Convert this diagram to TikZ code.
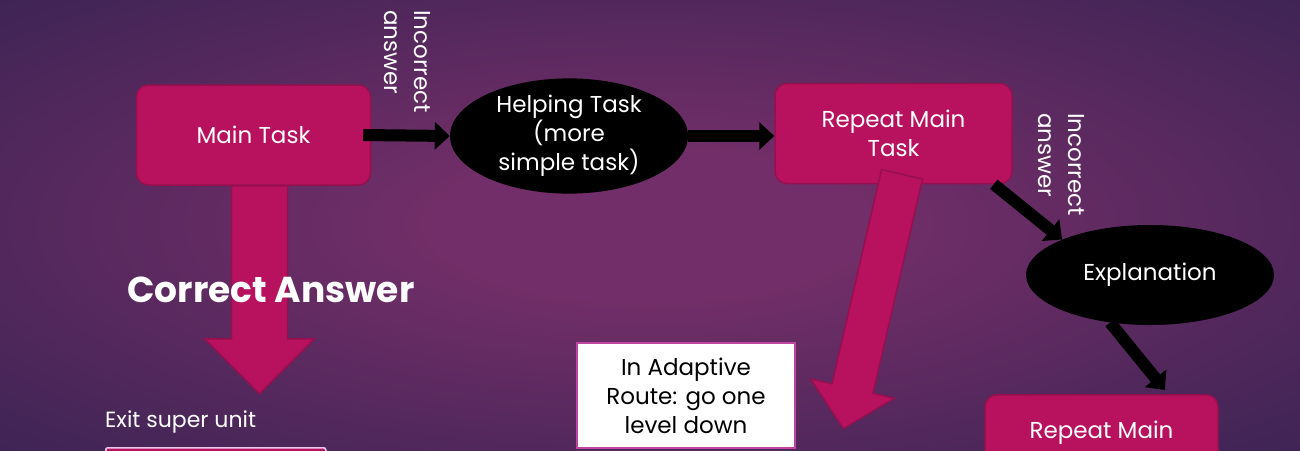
\documentclass[tikz,border=0pt]{standalone}
\usepackage{fontspec}
\setmainfont{Poppins}
\usetikzlibrary{shapes.geometric,arrows.meta,calc}

\definecolor{slidemid}{RGB}{114,46,104}
\definecolor{slideedge}{RGB}{50,34,80}
\definecolor{taskfill}{RGB}{184,18,95}
\definecolor{taskline}{RGB}{150,16,80}
\definecolor{notebord}{RGB}{190,70,160}
\definecolor{exitbord}{RGB}{235,200,235}

\pgfdeclareradialshading{slideglow}{\pgfpoint{0bp}{0bp}}{%
  color(0bp)=(slidemid); color(8bp)=(slidemid); color(42bp)=(slideedge); color(80bp)=(slideedge)}

\tikzset{
  taskbox/.style={draw=taskline, line width=1.5pt, fill=taskfill, rounded corners=12pt,
    minimum width=234pt, minimum height=100pt, text=white, align=center,
    font=\fontsize{23}{29}\selectfont},
  helpbubble/.style={ellipse, fill=black, text=white, inner sep=0pt, align=center,
    font=\fontsize{23}{29}\selectfont},
  flowarrow/.style={line width=12pt, -{Triangle[length=15pt,width=27pt]}},
  bigarrow/.style={draw=taskline, line width=1.5pt, fill=taskfill, line join=miter},
  sidenote/.style={text=white, align=left, rotate=-90, inner sep=0pt,
    font=\fontsize{23}{30}\selectfont},
}

\begin{document}
\begin{tikzpicture}[x=1pt, y=-1pt]
  \clip (0,0) rectangle (1300,450);
  \shade[shading=slideglow] (0,0) rectangle (1300,450);

  % top row
  \node[taskbox] (main) at (253.5,135) {Main Task};
  \node[helpbubble, minimum width=238pt, minimum height=113pt] (help) at (569,136)
    {Helping Task\\(more\\simple task)};
  \node[taskbox, minimum width=237pt] (rmt) at (893.5,133.5) {Repeat Main\\Task};
  \node[helpbubble, minimum width=248pt, minimum height=100pt] (expl) at (1150,275) {Explanation};
  \node[taskbox, anchor=north, minimum width=233pt] (rm2) at (1101.5,394)
    {Repeat Main\\\phantom{Task}};

  \node[sidenote] (inc1) at (407,61.5) {Incorrect\\answer};
  \node[sidenote] (inc2) at (1061,164.5) {Incorrect\\answer};

  % adaptive route note and exit
  \node[draw=notebord, line width=1.5pt, fill=white, text=black, minimum width=218pt,
    minimum height=105pt, align=center, font=\fontsize{23}{29}\selectfont] (adapt)
    at (686,395.5) {In Adaptive\\Route: go one\\level down};
  \node[taskbox, draw=exitbord, rounded corners=2pt, anchor=north west, minimum width=220pt,
    minimum height=80pt] (exitbox) at (105,447) {};
  \node[text=white, anchor=south west, inner sep=0pt, font=\fontsize{22}{26}\selectfont]
    (exit) at ($(exitbox.north west)+(0,-14)$) {Exit super unit};

  % block arrows
  \begin{scope}[shift={($(main.south)+(6,0)$)}]
    \draw[bigarrow] (-28,0) -- (-28,153) -- (-55,153) -- (0,208) -- (55,153) -- (28,153) -- (28,0) -- cycle;
  \end{scope}
  \begin{scope}[shift={($(rmt.south)+(8.5,-10)$)}, rotate=-13]
    \draw[bigarrow] (-21,0) -- (-21,220) -- (-43,220) -- (0,261) -- (43,220) -- (21,220) -- (21,0) -- cycle;
  \end{scope}

  \node[text=white, font=\fontsize{36}{42}\selectfont\bfseries] (correct) at (271,290) {Correct Answer};

  % flow arrows
  \draw[flowarrow] ($(main.east)+(-8,0)$) -- (help.west);
  \draw[flowarrow] (help.east) -- (help.east -| rmt.west);
  \draw[flowarrow] ($(rmt.south east)+(-19,0)$) -- (expl.north west);
  \draw[flowarrow] (expl.230) -- ($(rm2.north)+(63.5,-4)$);
\end{tikzpicture}
\end{document}
